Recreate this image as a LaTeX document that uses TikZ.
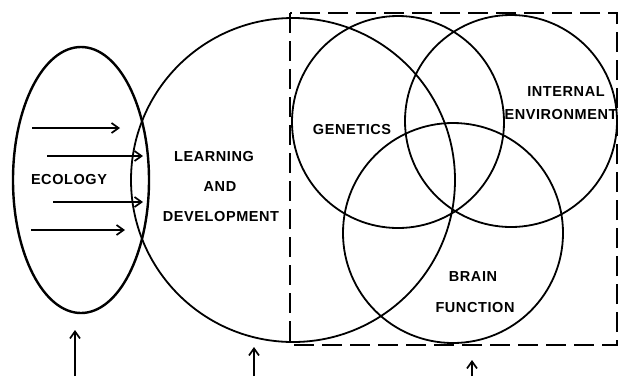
\documentclass[tikz,border=0pt]{standalone}
\usepackage{fontspec}
\newfontfamily\lettering[LetterSpace=4]{Liberation Sans}
\usetikzlibrary{arrows.meta,shapes.geometric}
\tikzset{
  >={Straight Barb[length=7pt,width=10pt]},
  % kretsar
  ring/.style={circle,draw=black,line width=1.8pt,inner sep=0pt},
  egg/.style={ellipse,draw=black,line width=2.4pt,inner sep=0pt},
  box/.style={draw=black,line width=2pt,dash pattern=on 20pt off 8pt},
  % text och pilar
  lbl/.style={font=\lettering\bfseries\fontsize{14.5}{16}\selectfont,inner sep=0pt},
  flow/.style={->,draw=black,line width=1.7pt},
}

\begin{document}
\begin{tikzpicture}[x=1pt,y=-1pt]
  \useasboundingbox (0,0) rectangle (618,376);
  \draw[box] (290,13) rectangle (617,345);
  \node[egg,minimum width=136pt,minimum height=266pt] (eco) at (81,180) {};
  \node[ring,minimum size=324pt] (learn) at (293,180) {};
  \node[ring,minimum size=212pt] (gen) at (398,122) {};
  \node[ring,minimum size=212pt] (intenv) at (511,121) {};
  \node[ring,minimum size=220pt] (brain) at (453,233) {};
  % rubriker
  \node[lbl] (ecolbl) at (69,180) {ECOLOGY};
  \node[lbl] (learnlbl) at (214,157) {LEARNING};
  \node[lbl] (andlbl) at (220,187) {AND};
  \node[lbl] (devlbl) at (221,217) {DEVELOPMENT};
  \node[lbl] (genlbl) at (352,130) {GENETICS};
  \node[lbl] (intlbl) at (566,92) {INTERNAL};
  \node[lbl] (envlbl) at (561,115) {ENVIRONMENT};
  \node[lbl] (brainlbl) at (473,277) {BRAIN};
  \node[lbl] (funclbl) at (475,307) {FUNCTION};
  % pilar i ekologin
  \coordinate (a1) at (32,128);  \coordinate (b1) at (120,128);
  \coordinate (a2) at (47,156);  \coordinate (b2) at (143,156);
  \coordinate (a3) at (53,202);  \coordinate (b3) at (143,202);
  \coordinate (a4) at (31,230);  \coordinate (b4) at (125,230);
  \draw[flow] (a1) -- (b1);
  \draw[flow] (a2) -- (b2);
  \draw[flow] (a3) -- (b3);
  \draw[flow] (a4) -- (b4);
  % pilar underifrån
  \coordinate (p1) at (75,376);  \coordinate (q1) at (75,330);
  \coordinate (p2) at (254,376); \coordinate (q2) at (254,347);
  \coordinate (p3) at (472,376); \coordinate (q3) at (472,360);
  \draw[flow] (p1) -- (q1);
  \draw[flow] (p2) -- (q2);
  \draw[flow] (p3) -- (q3);
\end{tikzpicture}
\end{document}
